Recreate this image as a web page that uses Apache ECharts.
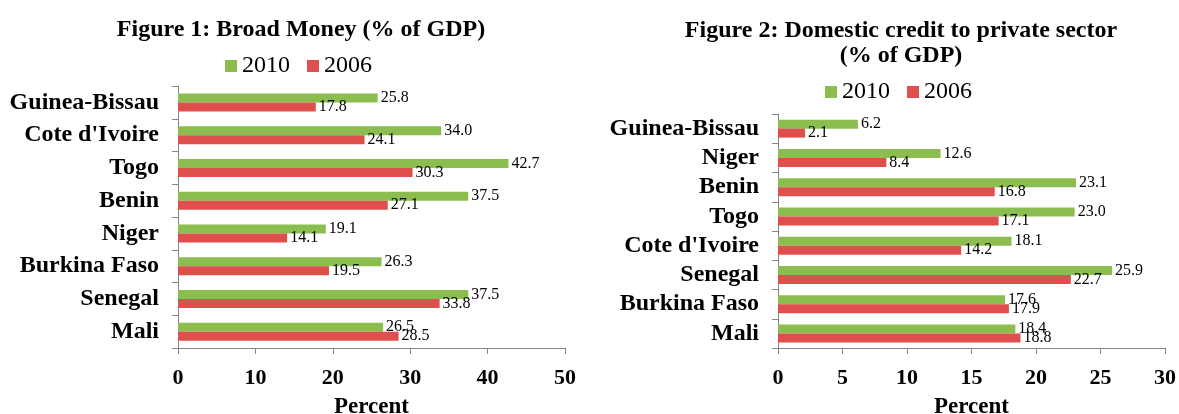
<!DOCTYPE html>
<html>
<head>
<meta charset="utf-8">
<script src="https://cdn.jsdelivr.net/npm/echarts@6/dist/echarts.min.js"></script>
<style>
  html, body { margin: 0; padding: 0; background: #fff; }
  #main { width: 1179px; height: 414px; }
</style>
</head>
<body>
<div id="main"></div>
<script>
// figure 1: broad money
var countries1 = ['Guinea-Bissau', "Cote d'Ivoire", 'Togo', 'Benin', 'Niger', 'Burkina Faso', 'Senegal', 'Mali'];
var money2010 = [25.8, 34.0, 42.7, 37.5, 19.1, 26.3, 37.5, 26.5];
var money2006 = [17.8, 24.1, 30.3, 27.1, 14.1, 19.5, 33.8, 28.5];

// figure 2: domestic credit
var countries2 = ['Guinea-Bissau', 'Niger', 'Benin', 'Togo', "Cote d'Ivoire", 'Senegal', 'Burkina Faso', 'Mali'];
var credit2010 = [6.2, 12.6, 23.1, 23.0, 18.1, 25.9, 17.6, 18.4];
var credit2006 = [2.1, 8.4, 16.8, 17.1, 14.2, 22.7, 17.9, 18.8];

var years = ['2010', '2006'];
var green = '#8cbd4f';
var red = '#df4f4e';
var font = "'Liberation Serif', 'Times New Roman', serif";

var myChart = echarts.init(document.getElementById('main'));

function catAxis(idx, cats) {
    return {
        type: 'category', gridIndex: idx, data: cats, inverse: true,
        axisLine: {lineStyle: {color: '#868686'}},
        axisTick: {show: true, length: 6, lineStyle: {color: '#868686'}},
        axisLabel: {
            color: '#000', fontFamily: font, fontWeight: 'bold', fontSize: 24,
            margin: 19, interval: 0, hideOverlap: false
        }
    };
}
function valAxis(idx, max, step) {
    return {
        type: 'value', gridIndex: idx, min: 0, max: max, interval: step,
        splitLine: {show: false},
        axisLine: {show: true, lineStyle: {color: '#868686'}},
        axisTick: {show: true, length: 6, lineStyle: {color: '#868686'}},
        axisLabel: {color: '#000', fontFamily: font, fontWeight: 'bold', fontSize: 22, margin: 19},
        name: 'Percent', nameLocation: 'middle', nameGap: 48,
        nameTextStyle: {color: '#000', fontFamily: font, fontWeight: 'bold', fontSize: 23}
    };
}
function barSeries(name, idx, values, color) {
    return {
        name: name, type: 'bar', xAxisIndex: idx, yAxisIndex: idx,
        data: values, barWidth: 9, barGap: '0%',
        itemStyle: {color: color},
        label: {
            show: true, position: 'right', distance: 3,
            color: '#000', fontFamily: font, fontSize: 16,
            formatter: function (p) { return p.value.toFixed(1); }
        }
    };
}

var legendText = {fontFamily: font, fontSize: 24, color: '#000'};

var option = {
    animation: false,
    title: [{
        text: 'Figure 1: Broad Money (% of GDP)',
        left: 296, top: 13, textAlign: 'center',
        textStyle: {fontFamily: font, fontWeight: 'bold', fontSize: 24, color: '#000'}
    }, {
        text: 'Figure 2: Domestic credit to private sector\n(% of GDP)',
        left: 896, top: 13, textAlign: 'center',
        textStyle: {fontFamily: font, fontWeight: 'bold', fontSize: 24, color: '#000', lineHeight: 25}
    }],
    legend: [{
        data: years, left: 220, top: 49, itemWidth: 12, itemHeight: 12, itemGap: 17,
        icon: 'rect', textStyle: legendText
    }, {
        data: years, left: 820, top: 75, itemWidth: 12, itemHeight: 12, itemGap: 17,
        icon: 'rect', textStyle: legendText
    }],
    grid: [
        {left: 178, width: 387, top: 86, height: 262, outerBoundsMode: 'none'},
        {left: 778, width: 387, top: 114, height: 234, outerBoundsMode: 'none'}
    ],
    xAxis: [valAxis(0, 50, 10), valAxis(1, 30, 5)],
    yAxis: [catAxis(0, countries1), catAxis(1, countries2)],
    series: [
        barSeries('2010', 0, money2010, green),
        barSeries('2006', 0, money2006, red),
        barSeries('2010', 1, credit2010, green),
        barSeries('2006', 1, credit2006, red)
    ]
};
myChart.setOption(option);
</script>
</body>
</html>
